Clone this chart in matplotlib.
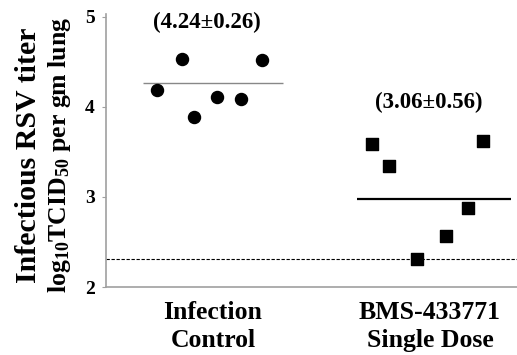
import matplotlib
matplotlib.use('Agg')
import matplotlib.pyplot as plt

# datos (log10 TCID50 por gm de pulmon)
grupos = ['Infection\nControl', 'BMS-433771\nSingle Dose']
control = [4.19, 4.53, 3.89, 4.11, 4.09, 4.52]
bms = [3.59, 3.34, 2.31, 2.57, 2.88, 3.62]
# desplazamiento horizontal de cada punto dentro del grupo
jitter_control = [-0.258, -0.143, -0.088, 0.018, 0.129, 0.226]
jitter_bms = [-0.267, -0.189, -0.060, 0.074, 0.175, 0.244]
media_control = 4.26
media_bms = 2.98
etiquetas_media = ['(4.24\u00b10.26)', '(3.06\u00b10.56)']
limite_deteccion = 2.31

plt.rcParams['font.family'] = ['Liberation Serif', 'DejaVu Serif']
plt.rcParams['font.weight'] = 'bold'
plt.rcParams['mathtext.fontset'] = 'custom'
plt.rcParams['mathtext.rm'] = 'Liberation Serif:bold'
plt.rcParams['mathtext.bf'] = 'Liberation Serif:bold'
plt.rcParams['mathtext.default'] = 'bf'

fig = plt.figure(figsize=(5.17, 3.55), dpi=100)
ax = fig.add_axes([106/517, 1 - 287/355, 411/517, 273/355])

gris = '#a0a0a0'

# linea del limite de deteccion
ax.axhline(limite_deteccion, color='black', lw=0.8, ls=(0, (3, 1.5)), zorder=1)

ax.scatter([1 + j for j in jitter_control], control, s=75, marker='o',
           color='black', zorder=3)
ax.scatter([2 + j for j in jitter_bms], bms, s=70, marker='s',
           color='black', zorder=3)

ax.hlines(media_control, 1 - 0.323, 1 + 0.323, color='#888888', lw=1.0, zorder=2)
ax.hlines(media_bms, 2 - 0.336, 2 + 0.373, color='black', lw=1.6, zorder=2)

ax.text(0.972, 4.94, etiquetas_media[0], ha='center', va='center',
        fontsize=16.5, fontweight='bold')
ax.text(1.995, 4.05, etiquetas_media[1], ha='center', va='center',
        fontsize=16.5, fontweight='bold')

ax.set_xlim(0.507, 2.401)
ax.set_ylim(2, 5.03)
ax.set_xticks([1, 2])
ax.set_xticklabels(grupos, fontsize=18.5, fontweight='bold', linespacing=1.3)
ax.set_yticks([2, 3, 4, 5])
ax.set_yticklabels(['2', '3', '4', '5'], fontsize=14, fontweight='bold')
ax.tick_params(axis='x', length=0, pad=10)
ax.tick_params(axis='y', length=3, color=gris, pad=5)

for lado in ['top', 'right']:
    ax.spines[lado].set_visible(False)
for lado in ['left', 'bottom']:
    ax.spines[lado].set_color(gris)
    ax.spines[lado].set_linewidth(1.2)

fig.text(29/517, 1 - 155/355, 'Infectious RSV titer', rotation=90,
         ha='center', va='center', fontsize=21.5, fontweight='bold')
fig.text(60/517, 1 - 155/355, r'log$_{10}$TCID$_{50}$ per gm lung', rotation=90,
         ha='center', va='center', fontsize=18.5, fontweight='bold')

fig.savefig('out.png', dpi=100)
